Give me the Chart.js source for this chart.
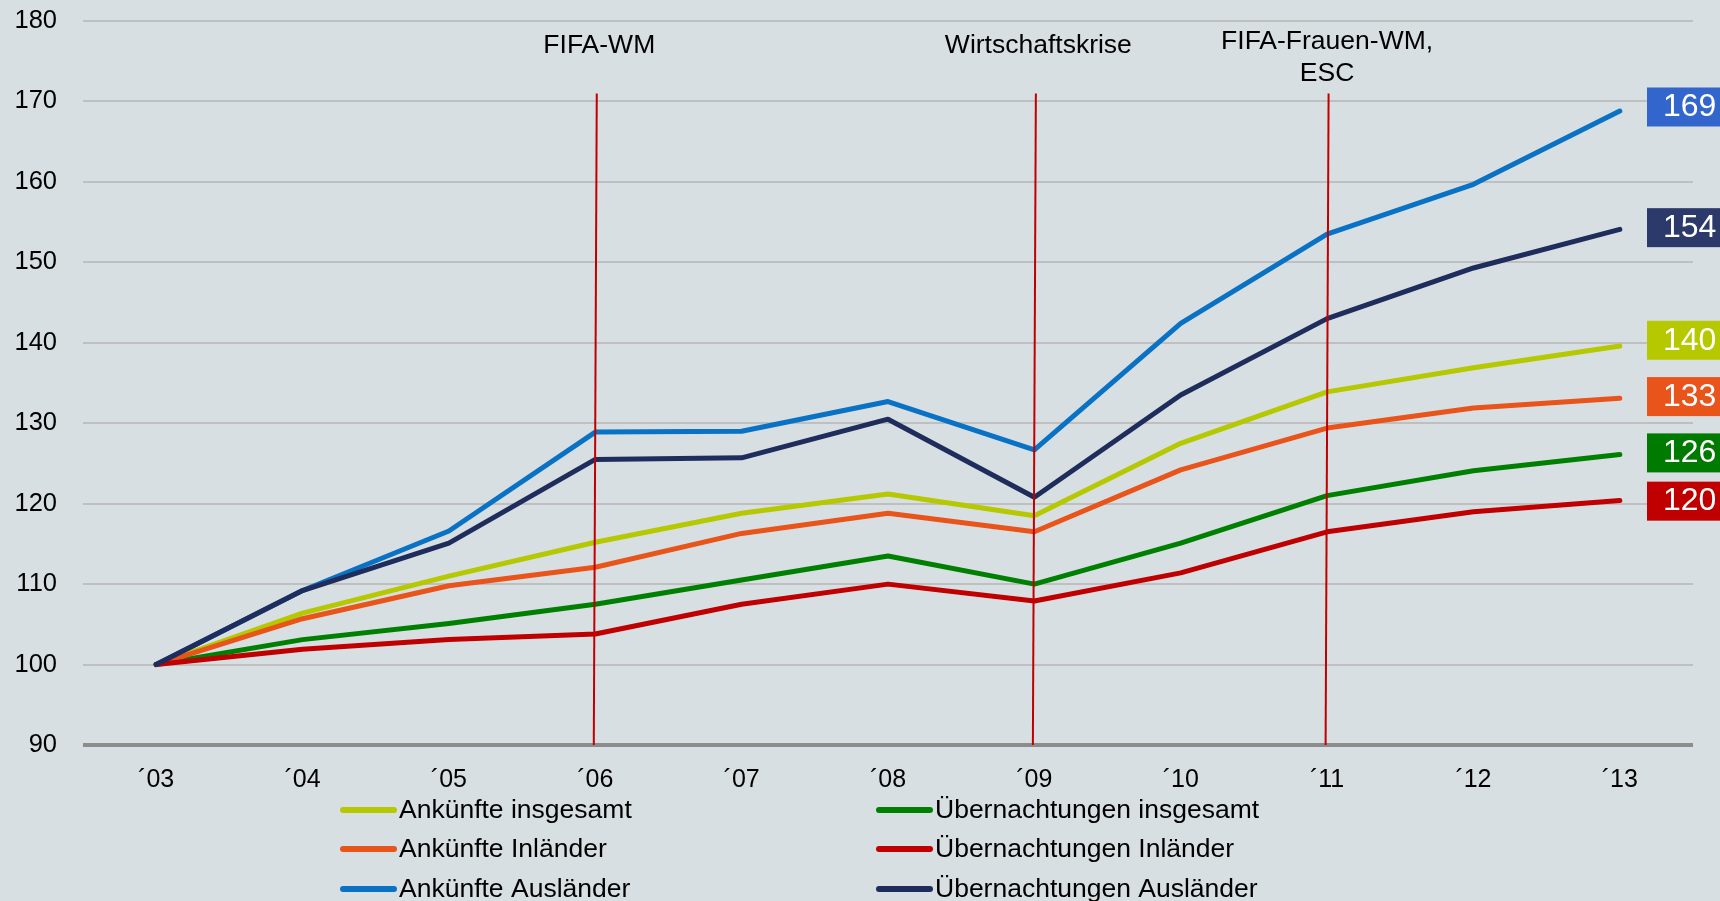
<!DOCTYPE html>
<html>
<head>
<meta charset="utf-8">
<script src="https://cdn.jsdelivr.net/npm/chart.js@4.4.1/dist/chart.umd.min.js"></script>
<style>
html,body{margin:0;padding:0;background:#D8DFE3;}
#wrap{width:1720px;height:901px;position:relative;}
canvas{display:block;}
</style>
</head>
<body>
<div id="wrap"><canvas id="c" width="1720" height="901"></canvas></div>
<script>
const years = ['´03','´04','´05','´06','´07','´08','´09','´10','´11','´12','´13'];
const ankuenfteGesamt = [100,106.4,111.0,115.2,118.8,121.2,118.5,127.5,133.9,136.9,139.6];
const ankuenfteInland = [100,105.7,109.8,112.1,116.3,118.8,116.5,124.2,129.4,131.9,133.1];
const ankuenfteAusland = [100,109.2,116.6,128.9,129.0,132.7,126.7,142.4,153.5,159.7,168.8];
const uebGesamt = [100,103.1,105.1,107.5,110.5,113.5,110.0,115.1,121.0,124.1,126.1];
const uebInland = [100,101.9,103.1,103.8,107.5,110.0,107.9,111.4,116.5,119.0,120.4];
const uebAusland = [100,109.2,115.1,125.5,125.7,130.5,120.8,133.5,143.0,149.3,154.1];
const endLabels = [140,133,169,126,120,154];
const eventIndex = [3,6,8];
const eventLabels = [['FIFA-WM'],['Wirtschaftskrise'],['FIFA-Frauen-WM,','ESC']];
const eventTop = 171;
const yMin = 90, yMax = 180, yStep = 10;

const FONT = "'Liberation Sans',Arial,sans-serif";

const lineColors = ['#B5C800','#E8541A','#0A72C4','#008000','#C00000','#1F2D5C'];
const boxColors  = ['#B5C800','#E8541A','#3366CC','#007A00','#C00000','#2B3A6B'];
const labels = ['Ankünfte insgesamt','Ankünfte Inländer','Ankünfte Ausländer','Übernachtungen insgesamt','Übernachtungen Inländer','Übernachtungen Ausländer'];
const series = [ankuenfteGesamt, ankuenfteInland, ankuenfteAusland, uebGesamt, uebInland, uebAusland];
const drawOrder = [5,3,6,4,2,1];

const datasets = series.map((d,i)=>({
  label: labels[i], data: d, borderColor: lineColors[i], backgroundColor: lineColors[i],
  borderWidth: 5, pointRadius: 0, tension: 0, borderCapStyle: 'round', borderJoinStyle: 'round',
  order: drawOrder[i], fill: false
}));

const bgPlugin = {
  id: 'bg',
  beforeDraw(chart){
    const ctx = chart.ctx; ctx.save(); ctx.fillStyle = '#D8DFE3';
    ctx.fillRect(0,0,chart.width,chart.height); ctx.restore();
  }
};

const eventsPlugin = {
  id: 'events',
  afterDatasetsDraw(chart){
    const ctx = chart.ctx, xs = chart.scales.x, ys = chart.scales.y;
    ctx.save();
    eventIndex.forEach((idx,k)=>{
      const x = xs.getPixelForValue(idx);
      ctx.strokeStyle = '#C00000'; ctx.lineWidth = 2;
      ctx.beginPath(); ctx.moveTo(x+1.5, ys.getPixelForValue(eventTop)); ctx.lineTo(x-1.5, ys.getPixelForValue(yMin)); ctx.stroke();
      ctx.fillStyle = '#000'; ctx.font = "26.5px " + FONT; ctx.textAlign = 'center'; ctx.textBaseline = 'middle';
      const lines = eventLabels[k];
      if (lines.length === 1) {
        ctx.fillText(lines[0], x+4, 46);
      } else {
        lines.forEach((t,j)=>ctx.fillText(t, x, 42 + j*32));
      }
    });
    // end value boxes
    series.forEach((d,i)=>{
      const yc = ys.getPixelForValue(endLabels[i]) - 3;
      ctx.fillStyle = boxColors[i];
      ctx.fillRect(1647, yc-19, 80, 39);
      ctx.fillStyle = '#fff'; ctx.font = "32px " + FONT;
      ctx.textAlign = 'left'; ctx.textBaseline = 'middle';
      ctx.fillText(String(endLabels[i]), 1663, yc+1);
    });
    ctx.restore();
  }
};

const legendPlugin = {
  id: 'customLegend',
  afterDraw(chart){
    const ctx = chart.ctx;
    const colX = [343, 879], rowY = [810, 849, 889];
    ctx.save();
    chart.data.datasets.forEach((ds,i)=>{
      const col = Math.floor(i/3), row = i%3;
      const x = colX[col], y = rowY[row];
      ctx.strokeStyle = ds.borderColor; ctx.lineWidth = 6; ctx.lineCap = 'round';
      ctx.beginPath(); ctx.moveTo(x, y); ctx.lineTo(x+51, y); ctx.stroke();
      ctx.fillStyle = '#000'; ctx.font = "26.5px " + FONT; ctx.textAlign = 'left'; ctx.textBaseline = 'middle';
      ctx.fillText(ds.label, x+56, y+1);
    });
    ctx.restore();
  }
};

new Chart(document.getElementById('c'), {
  type: 'line',
  data: { labels: years, datasets },
  options: {
    responsive: false, animation: false, devicePixelRatio: 1,
    layout: { padding: { top: 21, right: 27, left: 0, bottom: 0 } },
    plugins: { legend: { display: false }, tooltip: { enabled: false } },
    scales: {
      x: {
        offset: true,
        grid: { display: false, drawTicks: false },
        border: { display: false },
        ticks: { color: '#000', font: { family: FONT, size: 25 }, padding: 20, maxRotation: 0 },
        afterFit(s){ s.height = 156; s.paddingLeft = 0; s.paddingRight = 0; }
      },
      y: {
        min: yMin, max: yMax,
        grid: {
          drawTicks: false,
          color: c => c.tick && c.tick.value === yMin ? '#8C8C8C' : '#BFBFBF',
          lineWidth: c => c.tick && c.tick.value === yMin ? 4 : 2
        },
        border: { display: false },
        ticks: { stepSize: yStep, color: '#000', font: { family: FONT, size: 25.5 }, padding: 26 },
        afterFit(s){ s.width = 83; s.paddingTop = 0; s.paddingBottom = 0; }
      }
    }
  },
  plugins: [bgPlugin, eventsPlugin, legendPlugin]
});
</script>
</body>
</html>
